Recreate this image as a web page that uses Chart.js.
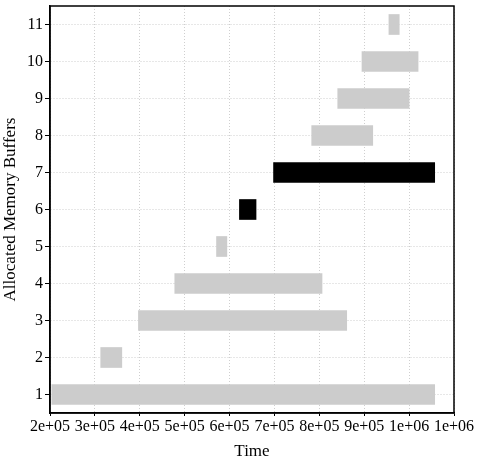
<!DOCTYPE html>
<html>
<head>
<meta charset="utf-8">
<script src="https://cdn.jsdelivr.net/npm/chart.js@4/dist/chart.umd.min.js"></script>
<style>
  html, body { margin: 0; padding: 0; background: #fff; }
  #wrap { width: 477px; height: 462px; }
</style>
</head>
<body>
<div id="wrap"><canvas id="bufChart"></canvas></div>
<script>
// buffer index and allocation interval [start, end]
const buffers = [1, 2, 3, 4, 5, 6, 7, 8, 9, 10, 11];
const starts = [204000, 313000, 397000, 478000, 571000, 622000, 698000, 783000, 841000, 895000, 955000];
const ends = [1057000, 360000, 861000, 806000, 594000, 659000, 1057000, 919000, 1000000, 1020000, 978000];
const highlighted = [6, 7];
const xTickLabels = ['2e+05', '3e+05', '4e+05', '5e+05', '6e+05', '7e+05', '8e+05', '9e+05', '1e+06', '1e+06'];

const FONT = 'Liberation Serif, "Times New Roman", serif';

const frame = {
  id: 'frame',
  afterDraw(chart) {
    const a = chart.chartArea, c = chart.ctx;
    c.save();
    c.strokeStyle = '#000';
    c.lineWidth = 1.5;
    c.strokeRect(a.left, a.top, a.right - a.left, a.bottom - a.top);
    c.restore();
  }
};

const ctx = document.getElementById('bufChart').getContext('2d');
new Chart(ctx, {
  type: 'bar',
  data: {
    datasets: [{
      data: buffers.map((b, i) => ({ y: b, x: [starts[i], ends[i]] })),
      backgroundColor: buffers.map(b => highlighted.includes(b) ? '#000000' : '#cccccc'),
      borderWidth: 0,
      barThickness: 20
    }]
  },
  options: {
    indexAxis: 'y',
    responsive: true,
    maintainAspectRatio: false,
    animation: false,
    layout: { padding: { left: 0, right: 23, top: 6, bottom: 0 } },
    plugins: { legend: { display: false }, tooltip: { enabled: false } },
    scales: {
      x: {
        type: 'linear',
        min: 200000,
        max: 1100000,
        afterBuildTicks(scale) {
          scale.ticks = xTickLabels.map((_, i) => ({ value: 200000 + i * 100000 }));
        },
        ticks: {
          autoSkip: false,
          maxRotation: 0,
          color: '#000',
          font: { family: FONT, size: 16 },
          padding: 1,
          callback: (v, i) => xTickLabels[i]
        },
        grid: {
          color: '#cfcfcf',
          tickColor: '#000',
          tickLength: 3,
          lineWidth: 1
        },
        border: { display: true, color: '#000', width: 1.5, dash: [1, 2] },
        title: {
          display: true,
          text: 'Time',
          color: '#000',
          font: { family: FONT, size: 17 },
          padding: { top: 2, bottom: 0 }
        },
        afterFit(scale) { scale.height = 49; scale.paddingLeft = 0; scale.paddingRight = 0; }
      },
      y: {
        type: 'linear',
        offset: false,
        min: 0.5,
        max: 11.5,
        afterBuildTicks(scale) {
          scale.ticks = buffers.map(b => ({ value: b }));
        },
        ticks: {
          color: '#000',
          font: { family: FONT, size: 16 },
          padding: 2,
          callback: v => String(v)
        },
        grid: {
          offset: false,
          color: '#cfcfcf',
          tickColor: '#000',
          tickLength: 5,
          lineWidth: 1
        },
        border: { display: true, color: '#000', width: 1.5, dash: [1, 2] },
        title: {
          display: true,
          text: 'Allocated Memory Buffers',
          color: '#000',
          font: { family: FONT, size: 17 },
          padding: { top: 0, bottom: 2 }
        },
        afterFit(scale) { scale.width = 50; scale.paddingTop = 0; scale.paddingBottom = 0; }
      }
    }
  },
  plugins: [frame]
});
</script>
</body>
</html>
